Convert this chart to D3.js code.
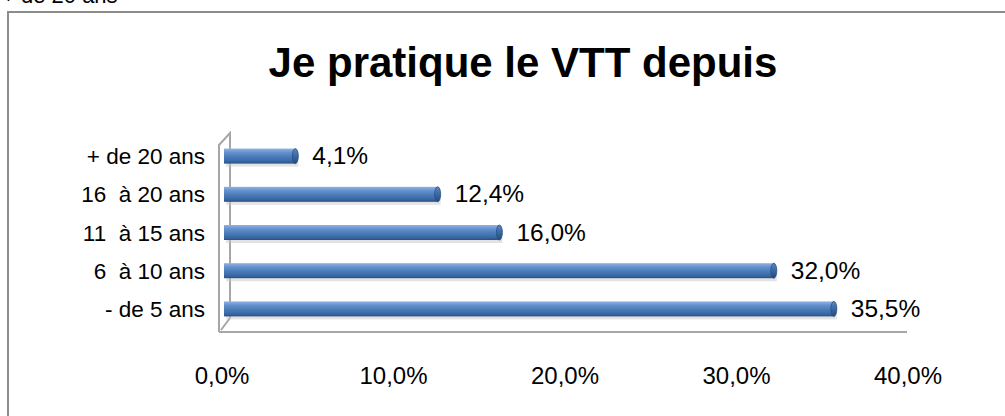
<!DOCTYPE html>
<html>
<head>
<meta charset="utf-8">
<script src="https://cdn.jsdelivr.net/npm/d3@7"></script>
<style>
  body { margin: 0; background: #fff; }
  svg { display: block; font-family: "Liberation Sans", Arial, sans-serif; }
</style>
</head>
<body>
<div id="chart"></div>
<script>
// data
var categories = ["+ de 20 ans", "16  à 20 ans", "11  à 15 ans", "6  à 10 ans", "- de 5 ans"];
var values = [4.1, 12.4, 16.0, 32.0, 35.5];
var ticks = [0, 10, 20, 30, 40];
var title = "Je pratique le VTT depuis";

var W = 1005, H = 416;
var svg = d3.select("#chart").append("svg")
  .attr("width", W).attr("height", H);

// gradient for the cylinder bars
var defs = svg.append("defs");
var grad = defs.append("linearGradient").attr("id", "barGrad")
  .attr("x1", 0).attr("y1", 0).attr("x2", 0).attr("y2", 1);
[["0%", "#8fb3e2"], ["25%", "#6592cf"], ["55%", "#4a7bb9"], ["85%", "#3866a2"], ["100%", "#284e83"]]
  .forEach(function(s) { grad.append("stop").attr("offset", s[0]).attr("stop-color", s[1]); });
var capGrad = defs.append("linearGradient").attr("id", "capGrad")
  .attr("x1", 0).attr("y1", 0).attr("x2", 0).attr("y2", 1);
[["0%", "#5a87c0"], ["50%", "#3b68a3"], ["100%", "#244a7c"]]
  .forEach(function(s) { capGrad.append("stop").attr("offset", s[0]).attr("stop-color", s[1]); });

// part of a label from above, cut at the top
svg.append("text")
  .attr("x", 2).attr("y", 3)
  .attr("font-size", "22px")
  .attr("fill", "#000")
  .text("+ de 20 ans");

// chart frame
svg.append("rect")
  .attr("x", 8).attr("y", 12)
  .attr("width", 1010).attr("height", 420)
  .attr("fill", "#fff")
  .attr("stroke", "#8c8c8c").attr("stroke-width", 2);

svg.append("text")
  .attr("x", 523).attr("y", 77)
  .attr("text-anchor", "middle")
  .attr("font-size", "42px").attr("font-weight", "bold")
  .text(title);

var x = d3.scaleLinear().domain([0, 40]).range([225, 911]);
var y = d3.scaleBand().domain(categories).range([137, 328]).paddingInner(0.62).paddingOuter(0.31);

// 3D wall + floor
var wall = svg.append("g").attr("fill", "none").attr("stroke", "#a6a6a6").attr("stroke-width", 2);
wall.append("path")
  .attr("d", "M219,332 L219,145 L230,133 L230,318 L221,330");
wall.append("line")
  .attr("x1", 219).attr("y1", 332).attr("x2", x(40) - 4).attr("y2", 332);

// bars
var bar = svg.append("g").selectAll("g").data(values).enter().append("g")
  .attr("transform", function(d, i) { return "translate(0," + (y(categories[i]) + y.bandwidth() / 2) + ")"; });

var bh = 15;
bar.append("rect")
  .attr("x", x(0) + 1).attr("y", bh / 2 - 2)
  .attr("width", function(d) { return x(d) - x(0) + 2; })
  .attr("height", 5)
  .attr("fill", "#c8c8c8").attr("opacity", 0.5);
bar.append("rect")
  .attr("x", x(0) - 1).attr("y", -bh / 2)
  .attr("width", function(d) { return x(d) - x(0) + 1; })
  .attr("height", bh)
  .attr("fill", "url(#barGrad)");
bar.append("ellipse")
  .attr("cx", function(d) { return x(d); }).attr("cy", 0)
  .attr("rx", 3).attr("ry", bh / 2)
  .attr("fill", "url(#capGrad)")
  .attr("stroke", "#2a4f80").attr("stroke-width", 0.8);

// value labels
bar.append("text")
  .attr("x", function(d) { return x(d) + 17; })
  .attr("y", 8)
  .attr("font-size", "24.5px")
  .text(function(d) { return d.toFixed(1).replace(".", ",") + "%"; });

// category labels
svg.append("g").selectAll("text").data(categories).enter().append("text")
  .attr("x", 205)
  .attr("y", function(d) { return y(d) + y.bandwidth() / 2 + 8; })
  .attr("text-anchor", "end")
  .attr("font-size", "22.5px")
  .style("white-space", "pre")
  .text(function(d) { return d; });

// x tick labels
svg.append("g").selectAll("text").data(ticks).enter().append("text")
  .attr("x", function(d) { return x(d) - 3; })
  .attr("y", 384)
  .attr("text-anchor", "middle")
  .attr("font-size", "24px")
  .text(function(d) { return d.toFixed(1).replace(".", ",") + "%"; });
</script>
</body>
</html>
